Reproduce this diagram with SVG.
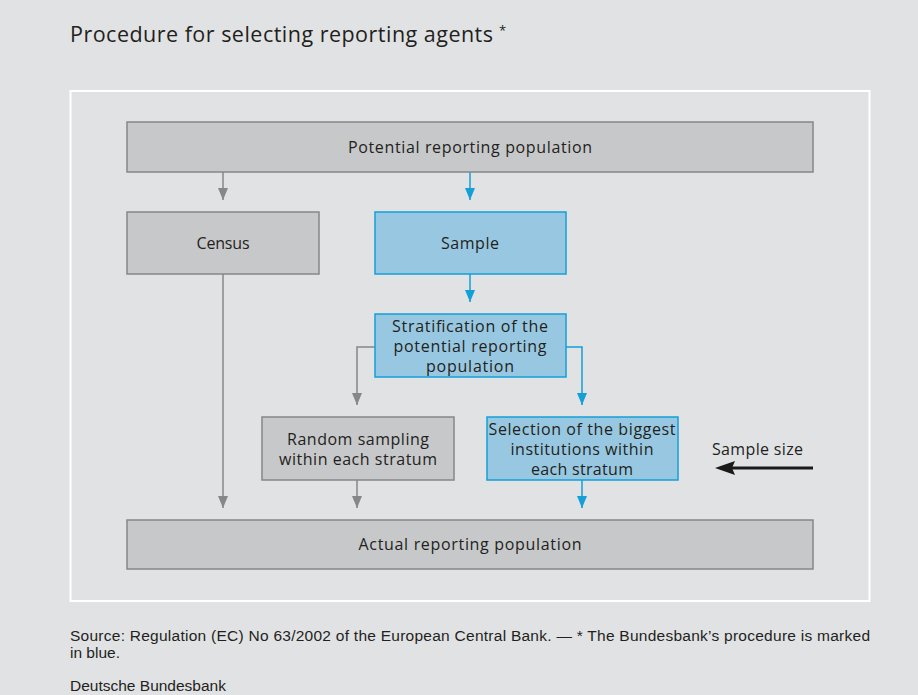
<svg xmlns="http://www.w3.org/2000/svg" width="918" height="695" viewBox="0 0 918 695">
<defs>
<style>
.bg{fill:#e1e2e4}
.g rect{fill:#c7c8ca;stroke:#858789;stroke-width:1.5}
.b rect{fill:#98c8e1;stroke:#13a0d9;stroke-width:1.5}
text{font-family:"Open Sans","Liberation Sans",Arial,sans-serif;fill:#231f20}
.n{font-size:16px;text-anchor:middle}
.cg{stroke:#858789;stroke-width:1.5;fill:none}
.cb{stroke:#13a0d9;stroke-width:1.5;fill:none}
.ft{font-size:15.5px;font-family:"Liberation Sans",Arial,sans-serif}
</style>
<marker id="ag" markerWidth="10" markerHeight="12" refX="5" refY="12" markerUnits="userSpaceOnUse" viewBox="0 0 10 12"><path d="M0,0 L10,0 L5,12 Z" fill="#858789"/></marker>
<marker id="ab" markerWidth="10" markerHeight="12" refX="5" refY="12" markerUnits="userSpaceOnUse" viewBox="0 0 10 12"><path d="M0,0 L10,0 L5,12 Z" fill="#13a0d9"/></marker>
</defs>
<rect class="bg" x="0" y="0" width="918" height="695"/>
<text x="70" y="42" font-size="21.5" textLength="423">Procedure for selecting reporting agents</text>
<text x="499" y="35" font-size="13">*</text>
<rect x="70.5" y="91" width="799" height="510" fill="none" stroke="#ffffff" stroke-width="2"/>

<g id="connectors">
<path class="cg" d="M223,172 V200" marker-end="url(#ag)"/>
<path class="cb" d="M470,172 V200" marker-end="url(#ab)"/>
<path class="cg" d="M223,274 V508" marker-end="url(#ag)"/>
<path class="cb" d="M470,274 V302" marker-end="url(#ab)"/>
<path class="cg" d="M375,347 H357 V405" marker-end="url(#ag)"/>
<path class="cb" d="M566,347 H582 V405" marker-end="url(#ab)"/>
<path class="cg" d="M357,480 V508" marker-end="url(#ag)"/>
<path class="cb" d="M582,480 V508" marker-end="url(#ab)"/>
<path d="M813,468 H730" stroke="#1a1a1a" stroke-width="3" fill="none"/>
<path d="M715,468 L735,461 L732,468 L735,475 Z" fill="#1a1a1a"/>
</g>

<g id="potential" class="g"><rect x="127" y="122" width="686" height="50"/><text class="n" x="470" y="153" textLength="244">Potential reporting population</text></g>
<g id="census" class="g"><rect x="127" y="212" width="192" height="62"/><text class="n" x="223" y="249" textLength="53">Census</text></g>
<g id="sample" class="b"><rect x="375" y="212" width="191" height="62"/><text class="n" x="470" y="249" textLength="58">Sample</text></g>
<g id="stratification" class="b"><rect x="375" y="314" width="191" height="63"/><text class="n" x="470" y="332" textLength="156">Stratification of the</text><text class="n" x="470" y="352" textLength="153">potential reporting</text><text class="n" x="470" y="372" textLength="88">population</text></g>
<g id="random" class="g"><rect x="262" y="417" width="192" height="63"/><text class="n" x="358" y="445" textLength="142">Random sampling</text><text class="n" x="358" y="465" textLength="158">within each stratum</text></g>
<g id="selection" class="b"><rect x="487" y="417" width="191" height="63"/><text class="n" x="582" y="435" textLength="187">Selection of the biggest</text><text class="n" x="582" y="455" textLength="143">institutions within</text><text class="n" x="582" y="475" textLength="102">each stratum</text></g>
<g id="actual" class="g"><rect x="127" y="520" width="686" height="49"/><text class="n" x="470" y="550" textLength="223">Actual reporting population</text></g>
<g id="samplesize"><text x="712" y="455" font-size="16" textLength="91">Sample size</text></g>

<text class="ft" x="70" y="641" textLength="800">Source: Regulation (EC) No 63/2002 of the European Central Bank. — * The Bundesbank’s procedure is marked</text>
<text class="ft" x="70" y="658">in blue.</text>
<text class="ft" x="70" y="691">Deutsche Bundesbank</text>
</svg>
